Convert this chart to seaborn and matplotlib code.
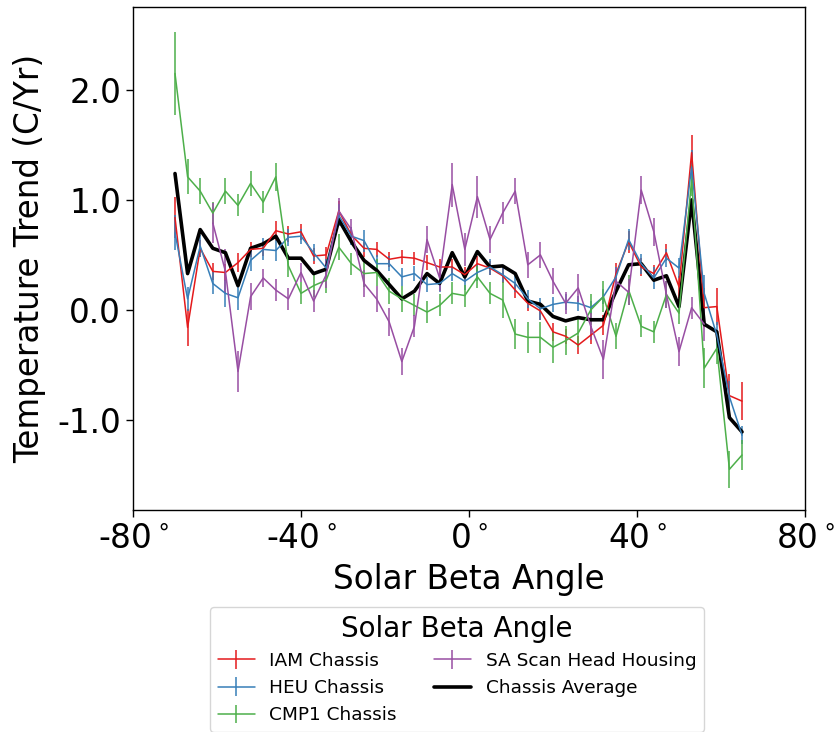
import numpy as np
import matplotlib
matplotlib.use("Agg")
import matplotlib.pyplot as plt
import seaborn as sns

nan = np.nan

# Solar beta angle bins (degrees)
beta = [-70, -67, -64, -61, -58, -55, -52, -49, -46, -43, -40, -37, -34, -31, -28, -25,
        -22, -19, -16, -13, -10, -7, -4, -1, 2, 5, 8, 11, 14, 17, 20, 23, 26, 29, 32,
        35, 38, 41, 44, 47, 50, 53, 56, 59, 62, 65]

# Temperature trends (C/Yr) and their uncertainties
iam = [0.84, -0.16, 0.56, 0.35, 0.34, 0.43, 0.55, 0.56, 0.72, 0.69, 0.71, 0.49, 0.50, 0.90,
       0.68, 0.56, 0.55, 0.46, 0.48, 0.47, 0.43, 0.39, 0.39, 0.32, 0.42, 0.38, 0.31, 0.18,
       0.06, -0.01, -0.20, -0.24, -0.32, -0.23, -0.14, 0.33, 0.62, 0.39, 0.33, 0.52, 0.21,
       1.43, 0.02, 0.03, -0.78, -0.83]
iam_err = [0.19, 0.17, 0.08, 0.08, 0.08, 0.09, 0.07, 0.07, 0.09, 0.07, 0.07, 0.07, 0.07, 0.09,
           0.07, 0.08, 0.07, 0.07, 0.06, 0.06, 0.07, 0.07, 0.07, 0.07, 0.07, 0.06, 0.07, 0.07,
           0.07, 0.08, 0.08, 0.07, 0.08, 0.08, 0.09, 0.10, 0.10, 0.08, 0.08, 0.08, 0.10,
           0.16, 0.18, 0.17, 0.20, 0.17]

heu = [0.70, 0.10, 0.58, 0.24, 0.15, 0.11, 0.45, 0.55, 0.54, 0.66, 0.67, 0.52, 0.38, 0.86,
       0.67, 0.63, 0.42, 0.42, 0.30, 0.33, 0.23, 0.24, 0.33, 0.26, 0.34, 0.39, 0.32, 0.24,
       0.10, 0.01, 0.05, 0.07, 0.06, 0.02, 0.12, 0.30, 0.64, 0.42, 0.29, 0.47, 0.38,
       1.30, 0.15, -0.23, -0.79, -1.14]
heu_err = [0.16, 0.11, 0.10, 0.10, 0.12, 0.11, 0.10, 0.10, 0.10, 0.08, 0.07, 0.08, 0.08, 0.10,
           0.08, 0.10, 0.08, 0.07, 0.08, 0.07, 0.07, 0.08, 0.07, 0.08, 0.08, 0.07, 0.07, 0.08,
           0.08, 0.10, 0.07, 0.07, 0.07, 0.06, 0.07, 0.09, 0.10, 0.09, 0.10, 0.08, 0.09,
           0.15, 0.17, 0.12, 0.14, 0.08]

cmp1 = [2.15, 1.21, 1.08, 0.88, 1.08, 0.95, 1.15, 0.98, 1.21, 0.40, 0.15, 0.22, 0.27, 0.57,
        0.42, 0.33, 0.34, 0.17, 0.10, 0.04, -0.02, 0.04, 0.15, 0.13, 0.30, 0.15, 0.09, -0.22,
        -0.25, -0.25, -0.34, -0.28, -0.21, 0.00, 0.12, -0.24, 0.18, -0.15, -0.20, 0.14, -0.03,
        1.18, -0.53, -0.35, -1.45, -1.32]
cmp1_err = [0.38, 0.16, 0.12, 0.10, 0.12, 0.10, 0.11, 0.10, 0.13, 0.10, 0.10, 0.10, 0.12, 0.12,
            0.10, 0.12, 0.12, 0.12, 0.12, 0.10, 0.10, 0.10, 0.10, 0.10, 0.10, 0.10, 0.16, 0.14,
            0.14, 0.14, 0.14, 0.13, 0.13, 0.14, 0.14, 0.12, 0.14, 0.10, 0.10, 0.12, 0.10,
            0.14, 0.18, 0.14, 0.17, 0.14]

sa_scan = [nan, nan, nan, 0.79, 0.35, -0.56, 0.12, 0.29, 0.18, 0.10, 0.34, 0.08, 0.32, 0.90,
           0.73, 0.24, 0.10, -0.11, -0.47, -0.15, 0.64, 0.29, 1.14, 0.55, 1.03, 0.64, 0.88, 1.08,
           0.41, 0.50, 0.26, 0.06, 0.20, -0.15, -0.45, 0.26, 0.16, 1.09, 0.71, 0.14, -0.38,
           0.02, -0.13, nan, nan, nan]
sa_scan_err = [nan, nan, nan, 0.18, 0.20, 0.19, 0.12, 0.08, 0.10, 0.10, 0.09, 0.10, 0.12, 0.12,
               0.10, 0.12, 0.12, 0.13, 0.12, 0.10, 0.12, 0.12, 0.20, 0.15, 0.19, 0.12, 0.10, 0.12,
               0.12, 0.12, 0.12, 0.10, 0.13, 0.12, 0.18, 0.12, 0.12, 0.13, 0.13, 0.12, 0.13,
               0.10, 0.15, nan, nan, nan]

chassis_avg = [1.24, 0.33, 0.73, 0.56, 0.52, 0.22, 0.56, 0.60, 0.67, 0.47, 0.47, 0.33, 0.37, 0.82,
               0.62, 0.45, 0.36, 0.23, 0.10, 0.17, 0.33, 0.24, 0.52, 0.30, 0.53, 0.39, 0.40, 0.33,
               0.08, 0.05, -0.06, -0.10, -0.07, -0.09, -0.09, 0.17, 0.41, 0.42, 0.27, 0.31, 0.03,
               1.00, -0.13, -0.20, -0.98, -1.11]

series_names = ["IAM Chassis", "HEU Chassis", "CMP1 Chassis", "SA Scan Head Housing"]
avg_name = "Chassis Average"
x_ticks = [-80, -40, 0, 40, 80]
y_ticks = [-1.0, 0.0, 1.0, 2.0]

sns.set_style("ticks")
plt.rcParams["font.family"] = ["DejaVu Sans"]
plt.rcParams["text.color"] = "black"
plt.rcParams["axes.labelcolor"] = "black"
plt.rcParams["xtick.color"] = "black"
plt.rcParams["ytick.color"] = "black"
palette = sns.color_palette("Set1", 4)

fig = plt.figure(figsize=(8.37, 7.32), dpi=100)
ax = fig.add_axes([0.1589, 0.3033, 0.8029, 0.6872])

for name, vals, errs, col in zip(series_names,
                                 [iam, heu, cmp1, sa_scan],
                                 [iam_err, heu_err, cmp1_err, sa_scan_err],
                                 palette):
    ax.errorbar(beta, vals, yerr=errs, color=col, lw=1.1, elinewidth=1.1,
                capsize=0, label=name)

sns.lineplot(x=beta, y=chassis_avg, color="black", lw=2.6, ax=ax, label=avg_name)

ax.set_xlim(-80, 80)
ax.set_ylim(-1.82, 2.755)
ax.set_xticks(x_ticks)
ax.set_xticklabels([f"{t}$^\\circ$" for t in x_ticks])
ax.set_yticks(y_ticks)
ax.set_yticklabels([f"{t:.1f}" for t in y_ticks])
ax.tick_params(labelsize=23.5, length=5, width=1, color="black", direction="out")
for s in ax.spines.values():
    s.set_color("black")
    s.set_linewidth(1.0)
ax.set_xlabel("Solar Beta Angle", fontsize=23.5, labelpad=6)
ax.set_ylabel("Temperature Trend (C/Yr)", fontsize=23.5, labelpad=8)

handles, labels = ax.get_legend_handles_labels()
if ax.get_legend() is not None:
    ax.get_legend().remove()
order = series_names + [avg_name]
lookup = dict(zip(labels, handles))
fig.legend([lookup[n] for n in order], order, ncol=2, loc="upper center",
           bbox_to_anchor=(457 / 837, 1 - 598 / 732),
           fontsize=13.3, title="Solar Beta Angle", title_fontsize=20,
           frameon=True, columnspacing=2.0, handlelength=2.0)

fig.savefig("out.png", dpi=100)
